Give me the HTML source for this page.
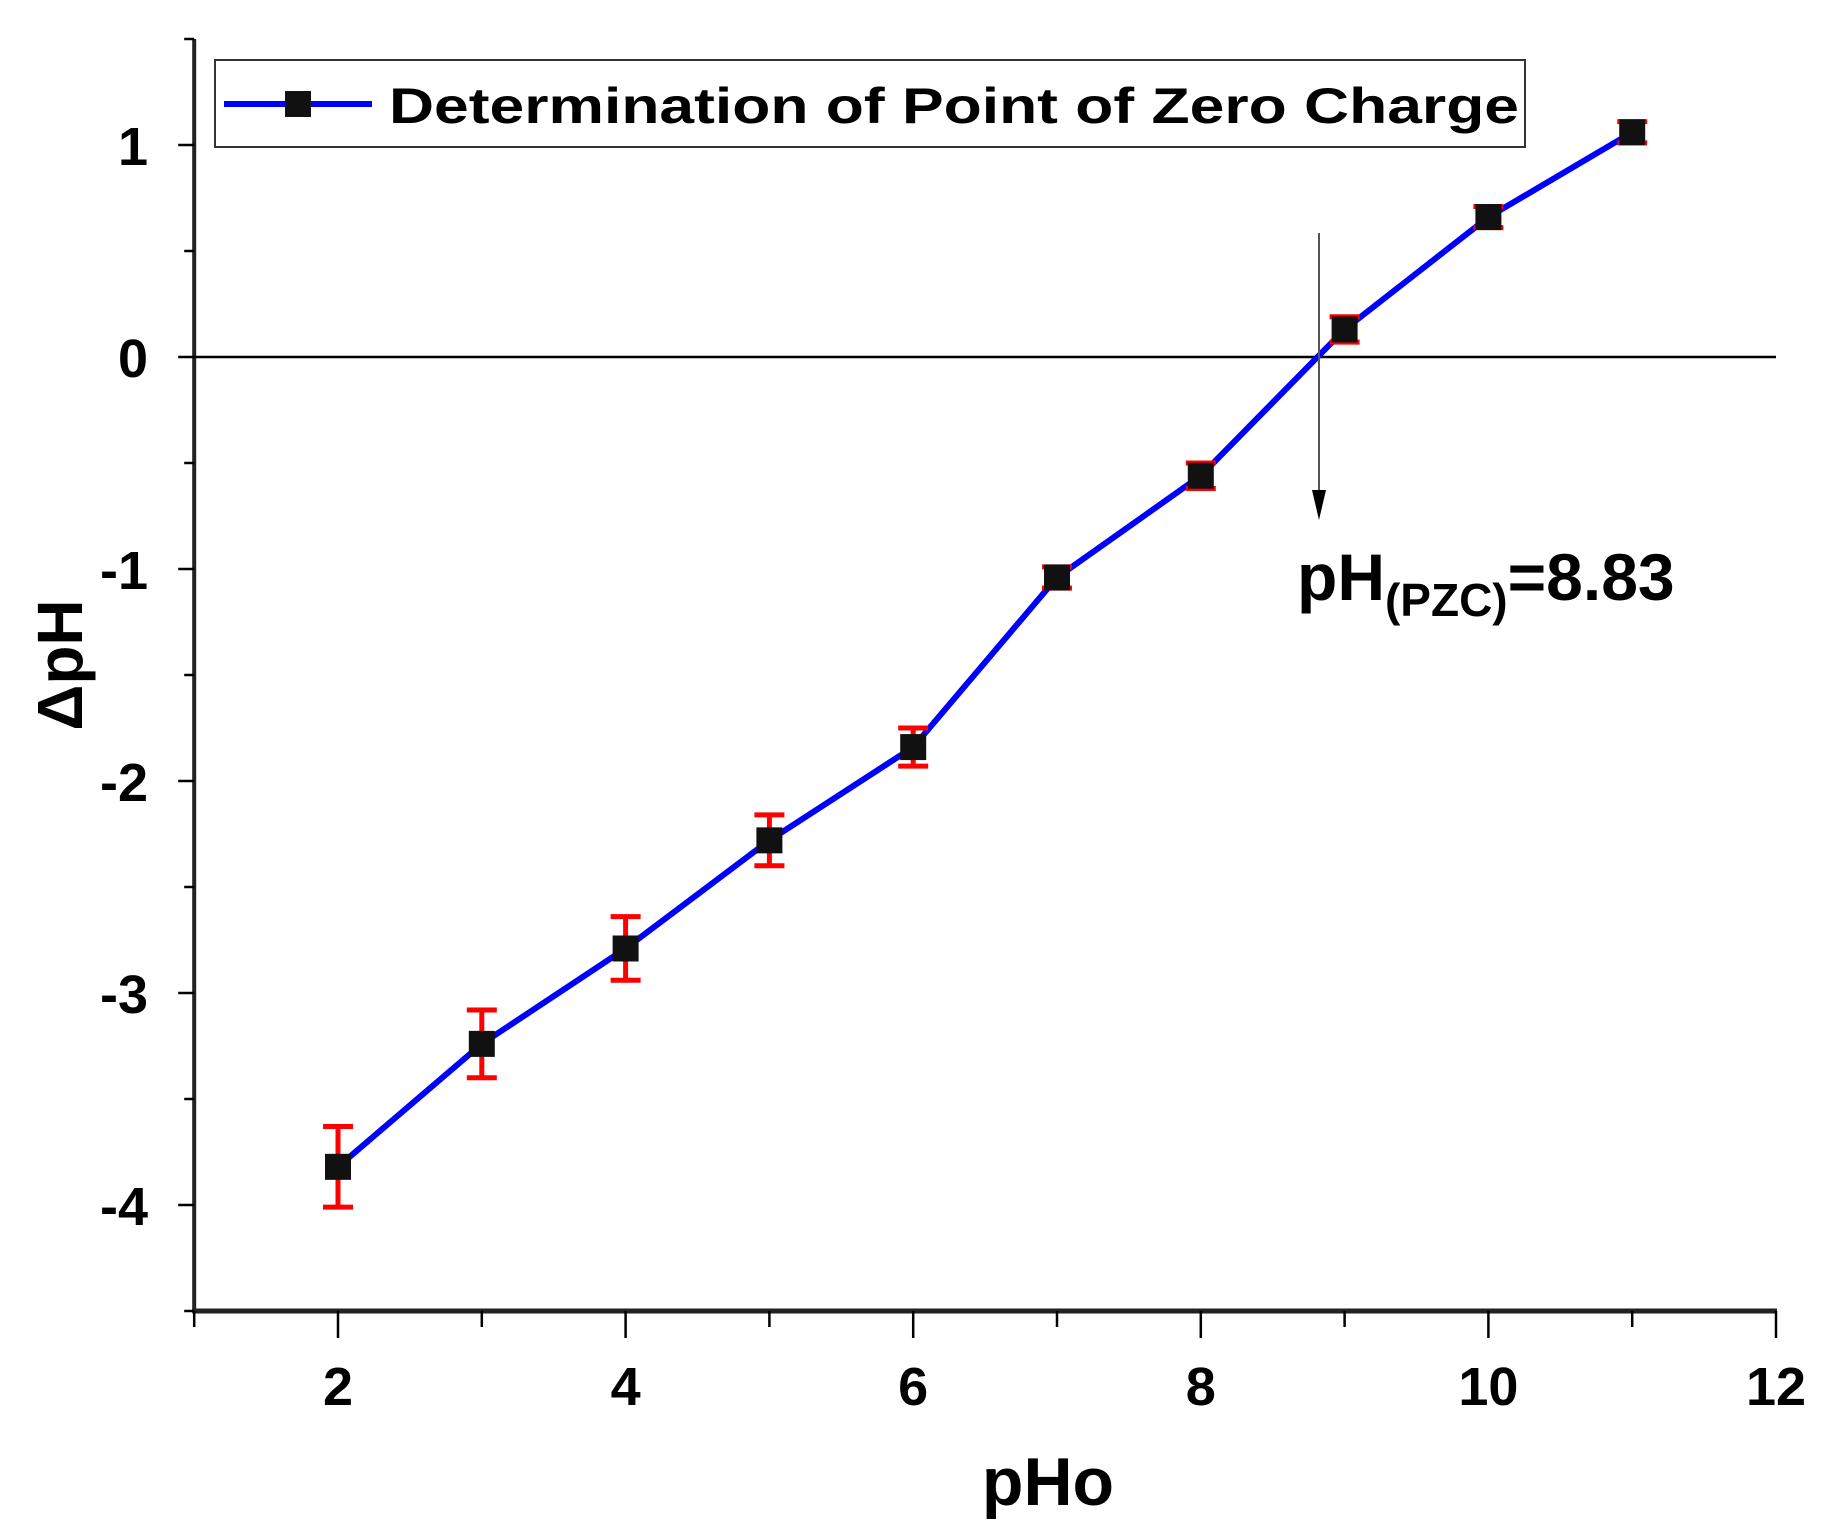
<!DOCTYPE html>
<html><head><meta charset="utf-8"><style>
html,body{margin:0;padding:0;background:#fff;}
svg{display:block;font-family:"Liberation Sans",sans-serif;font-weight:bold;}
</style></head><body>
<svg id="chart" width="1846" height="1538" viewBox="0 0 1846 1538">
<g id="axes"></g>
<g id="series"></g>
<line id="arrowline" x1="1319" y1="233" x2="1319" y2="500" stroke="#555" stroke-width="2"/>
<polygon id="arrowhead" points="1312,490 1326,490 1319,520" fill="#000"/>
<text x="1297" y="600" font-size="66">pH<tspan font-size="46" dy="16">(PZC)</tspan><tspan dy="-16">=8.83</tspan></text>
<g>
<rect x="215" y="60" width="1310" height="87" fill="#fff" stroke="#333" stroke-width="2"/>
<line x1="224" y1="104" x2="372" y2="104" stroke="#0000ff" stroke-width="6"/>
<rect x="285" y="91" width="26" height="26" fill="#111"/>
<text x="389" y="123" font-size="50" textLength="1130" lengthAdjust="spacingAndGlyphs">Determination of Point of Zero Charge</text>
</g>
<text x="1048" y="1505" font-size="68" text-anchor="middle">pHo</text>
<text transform="translate(82,665) rotate(-90)" font-size="64" text-anchor="middle">ΔpH</text>
</svg>
<script>
const categories=[2,3,4,5,6,7,8,9,10,11];
const values=[-3.82,-3.24,-2.79,-2.28,-1.84,-1.04,-0.56,0.13,0.66,1.06];
const errors=[0.19,0.16,0.15,0.12,0.09,0.05,0.06,0.06,0.05,0.05];
const xTicks=[2,4,6,8,10,12];
const yTicks=[-4,-3,-2,-1,0,1];
const NS="http://www.w3.org/2000/svg";
const X=v=>338+(v-2)*143.8;
const Y=v=>357-v*212;
function mk(tag,attrs,parent){const e=document.createElementNS(NS,tag);for(const k in attrs)e.setAttribute(k,attrs[k]);parent.appendChild(e);return e;}
const ax=document.getElementById('axes');
let e;
e=mk('line',{x1:X(1),y1:Y(1.5),x2:X(1),y2:Y(-4.5),stroke:'#222','stroke-width':4},ax);


e=mk('line',{x1:X(1)-2,y1:Y(-4.5),x2:X(12)+1,y2:Y(-4.5),stroke:'#222','stroke-width':5},ax);


e=mk('line',{x1:X(1),y1:Y(0),x2:X(12),y2:Y(0),stroke:'#000','stroke-width':2.5},ax);


for(let v=1;v<=12;v++){
  const major=v%2===0;
  e=mk('line',{x1:X(v),y1:Y(-4.5),x2:X(v),y2:Y(-4.5)+(major?27:16),stroke:'#000','stroke-width':2.5},ax);
  
  
}
xTicks.forEach(v=>{
  e=mk('text',{x:X(v),y:1405,'font-size':54,'text-anchor':'middle'},ax);e.textContent=v;
  
  
});
for(let v=-4.5;v<=1.5;v+=0.5){
  const major=Number.isInteger(v);
  e=mk('line',{x1:X(1),y1:Y(v),x2:X(1)-(major?16:10),y2:Y(v),stroke:'#000','stroke-width':2.5},ax);
  
  
}
yTicks.forEach(v=>{
  e=mk('text',{x:148,y:Y(v)+20,'font-size':54,'text-anchor':'end'},ax);e.textContent=v;
  
  
});
const sg=document.getElementById('series');
e=mk('polyline',{points:categories.map((c,i)=>X(c)+','+Y(values[i])).join(' '),fill:'none',stroke:'#0000ff','stroke-width':6,'stroke-linejoin':'round'},sg);


categories.forEach((c,i)=>{
  const x=X(c),t=Y(values[i]+errors[i]),b=Y(values[i]-errors[i]);
  e=mk('path',{d:`M${x},${t}V${b}M${x-15},${t}H${x+15}M${x-15},${b}H${x+15}`,stroke:'#ff0000','stroke-width':5,fill:'none'},sg);
  
  
  e=mk('rect',{x:x-13,y:Y(values[i])-13,width:26,height:26,fill:'#111'},sg);
  
  
});
</script>
</body></html>
